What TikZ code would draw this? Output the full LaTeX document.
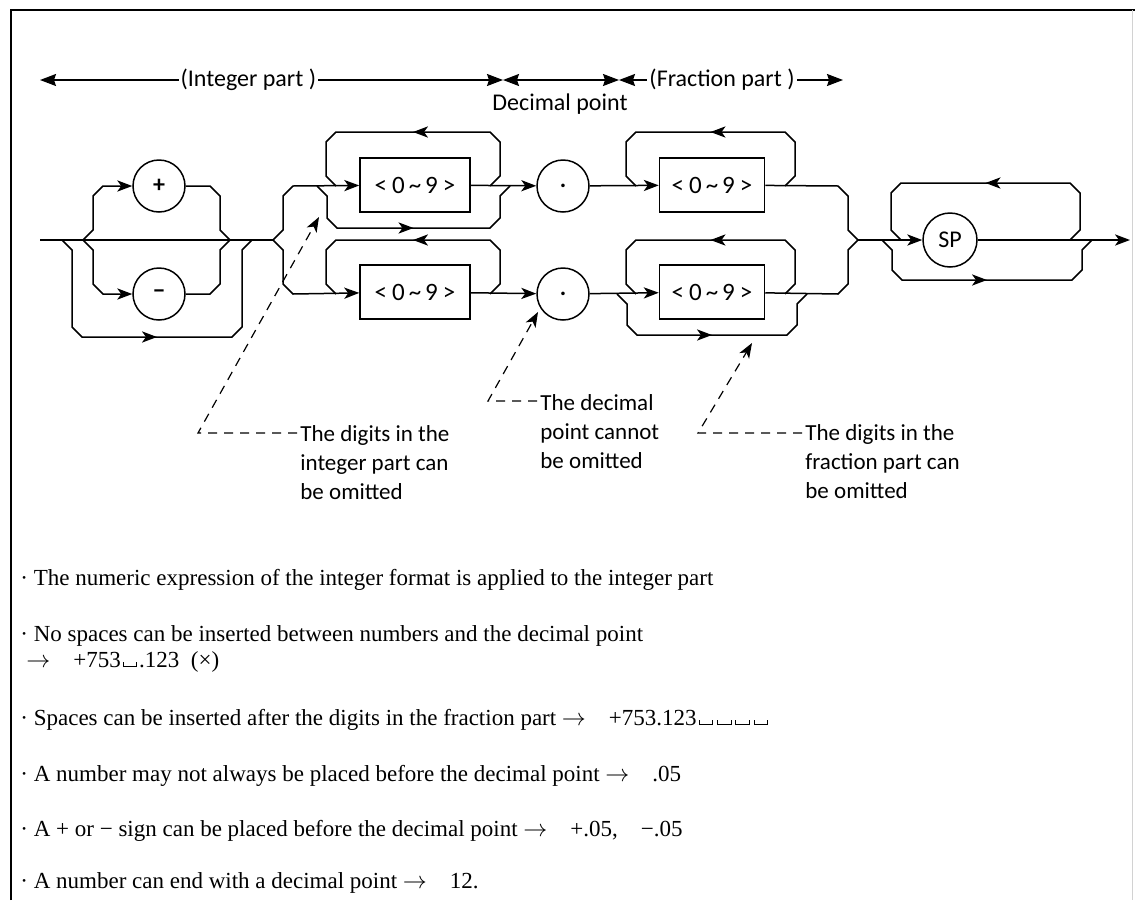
\documentclass[tikz,border=0pt]{standalone}
\usepackage{fontspec}
\usepackage{amsmath}
\setmainfont{Liberation Serif}
\newfontfamily\diagfont{Carlito}
\usetikzlibrary{arrows.meta}
\usetikzlibrary{decorations.markings}
\newcommand{\vsp}{\kern0.08em\rule{0.5pt}{0.22em}\rule{0.55em}{0.5pt}\rule{0.5pt}{0.22em}\kern0.08em}
\newcommand{\digits}{<\hspace{2.5pt}0\hspace{2pt}\textasciitilde\hspace{2pt}9\hspace{2.5pt}>}
\tikzset{
    rail/.style={line width=0.75pt},
    digitbox/.style={draw, rail, minimum width=55pt, minimum height=27pt, inner sep=0pt, font=\diagfont\fontsize{12.5}{14}\selectfont},
    symcirc/.style={draw, rail, circle, minimum size=26pt, inner sep=0pt, font=\diagfont\fontsize{12}{14}\selectfont},
    looparrow/.style={postaction={decorate}, decoration={markings, mark=at position 0.5 with {\arrow{>}}}},
    note/.style={anchor=north west, align=left, inner sep=0pt, font=\diagfont\fontsize{11.5}{14.5}\selectfont},
    span/.style={font=\diagfont\fontsize{12}{14}\selectfont, inner sep=1pt},
    spantip/.style={{Stealth[length=8pt, width=6pt, inset=1pt]}-{Stealth[length=8pt, width=6pt, inset=1pt]}},
    leader/.style={dash pattern=on 4.5pt off 3.5pt, line width=0.6pt},
    rule/.style={anchor=base west, inner sep=0pt, font=\fontsize{11.5}{13}\selectfont}
}

\begin{document}
\begin{tikzpicture}[x=0.5pt, y=-0.5pt, >={Stealth[length=7.5pt, width=5.6pt, inset=2pt]}]
            \useasboundingbox (0,0) rectangle (1135,900);
            \draw[line width=0.8pt] (11,900) -- (11,10) -- (1135,10);
            \draw[gray!35, line width=0.5pt] (1132,10) -- (1132,900);

            \coordinate (intL) at (40,80);
            \coordinate (decL) at (503,80);
            \coordinate (fracL) at (619,80);
            \coordinate (fracR) at (843,80);

            \draw[rail, spantip] (intL) -- (decL) node[pos=0.45, span, fill=white] (intlab) {(Integer part )};
            \draw[rail, spantip] (decL) -- (fracL);
            \draw[rail, spantip] (fracL) -- (fracR) node[pos=0.46, span, fill=white] (fraclab) {(Fraction part )};
            \node[span] (declab) at (560,104) {Decimal point};

            \node[symcirc] (plus) at (159,186) {\bfseries +};
            \node[symcirc] (minus) at (159,294) {\bfseries −};
            \node[digitbox] (ibox1) at (415,185) {\digits};
            \node[digitbox] (ibox2) at (415,292) {\digits};
            \node[symcirc] (dot1) at (563,186) {\bfseries .};
            \node[symcirc] (dot2) at (563,294) {\bfseries .};
            \node[digitbox, minimum width=52.5pt] (fbox1) at (712,185) {\digits};
            \node[digitbox, minimum width=52.5pt] (fbox2) at (712,292) {\digits};
            \node[symcirc, minimum size=27pt] (sp) at (950,240) {SP};

            \coordinate (in) at (40,240);
            \coordinate (signsplit) at (83,240);
            \coordinate (signjoin) at (230,240);
            \coordinate (digsplit) at (273,240);
            \coordinate (fracjoin) at (858,240);
            \coordinate (out) at (1130,240);

            \draw[rail] (in) -- (digsplit);
            \draw[rail, ->] (signsplit) -- (93,230) -- (93,196) -- (103,186) -- (plus);
            \draw[rail] (plus) -- (210,186) -- (220,196) -- (220,230) -- (signjoin);
            \draw[rail, ->] (signsplit) -- (93,250) -- (93,284) -- (103,294) -- (minus);
            \draw[rail] (minus) -- (210,294) -- (220,284) -- (220,250) -- (signjoin);
            \draw[rail, looparrow] (62,240) -- (72,250) -- (72,327) -- (82,337) -- (232,337) -- (242,327) -- (242,250) -- (252,240);

            \draw[rail, ->] (digsplit) -- (283,230) -- (283,196) -- (293,186) -- (ibox1);
            \draw[rail, ->] (digsplit) -- (283,250) -- (283,284) -- (293,294) -- (ibox2);
            \draw[rail, looparrow] (490,186) -- (500,176) -- (500,142) -- (490,132) -- (336,132) -- (326,142) -- (326,176) -- (336,186);
            \draw[rail, looparrow] (317,186) -- (327,196) -- (327,218) -- (337,228) -- (490,228) -- (500,218) -- (500,196) -- (510,186);
            \draw[rail, looparrow] (490,294) -- (500,284) -- (500,250) -- (490,240) -- (336,240) -- (326,250) -- (326,284) -- (336,294);
            \draw[rail, ->] (ibox1) -- (dot1);
            \draw[rail, ->] (ibox2) -- (dot2);

            \draw[rail, ->] (dot1) -- (fbox1);
            \draw[rail, ->] (dot2) -- (fbox2);
            \draw[rail, looparrow] (785,186) -- (795,176) -- (795,142) -- (785,132) -- (636,132) -- (626,142) -- (626,176) -- (636,186);
            \draw[rail, looparrow] (785,294) -- (795,284) -- (795,250) -- (785,240) -- (636,240) -- (626,250) -- (626,284) -- (636,294);
            \draw[rail, looparrow] (617,294) -- (627,304) -- (627,325) -- (637,335) -- (787,335) -- (797,325) -- (797,304) -- (807,294);
            \draw[rail] (fbox1) -- (838,186) -- (848,196) -- (848,230) -- (fracjoin);
            \draw[rail] (fbox2) -- (838,294) -- (848,284) -- (848,250) -- (fracjoin);

            \draw[rail, ->] (fracjoin) -- (sp);
            \draw[rail, ->] (sp) -- (out);
            \draw[rail, looparrow] (1070,240) -- (1080,230) -- (1080,193) -- (1070,183) -- (901,183) -- (891,193) -- (891,230) -- (901,240);
            \draw[rail, looparrow] (882,240) -- (892,250) -- (892,270) -- (902,280) -- (1072,280) -- (1082,270) -- (1082,250) -- (1092,240);

            \node[note] (note1) at (300,425) {The digits in the\\integer part can\\be omitted};
            \node[note] (note2) at (540,394) {The decimal\\point cannot\\be omitted};
            \node[note] (note3) at (805,424) {The digits in the\\fraction part can\\be omitted};
            \coordinate (bend1) at (198,433);
            \coordinate (bend2) at (488,401);
            \coordinate (bend3) at (698,433);
            \coordinate (tip1) at (319,217);
            \coordinate (tip2) at (538,312);
            \coordinate (tip3) at (752,343);
            \draw[leader, ->] (297,433) -- (bend1) -- (tip1);
            \draw[leader, ->] (537,401) -- (bend2) -- (tip2);
            \draw[leader, ->] (802,433) -- (bend3) -- (tip3);

            \node[rule] (r1) at (20,585) {· The numeric expression of the integer format is applied to the integer part};
            \node[rule] (r2) at (20,641) {· No spaces can be inserted between numbers and the decimal point};
            \node[rule] (r2b) at (26,667) {$\rightarrow$\quad +753\vsp.123\enspace (×)};
            \node[rule] (r3) at (20,725) {· Spaces can be inserted after the digits in the fraction part $\rightarrow$\quad +753.123\vsp\vsp\vsp\vsp};
            \node[rule] (r4) at (20,781) {· A number may not always be placed before the decimal point $\rightarrow$\quad .05};
            \node[rule] (r5) at (20,836) {· A + or − sign can be placed before the decimal point $\rightarrow$\quad +.05,\quad −.05};
            \node[rule] (r6) at (20,888) {· A number can end with a decimal point $\rightarrow$\quad 12.};
        \end{tikzpicture}
\end{document}
